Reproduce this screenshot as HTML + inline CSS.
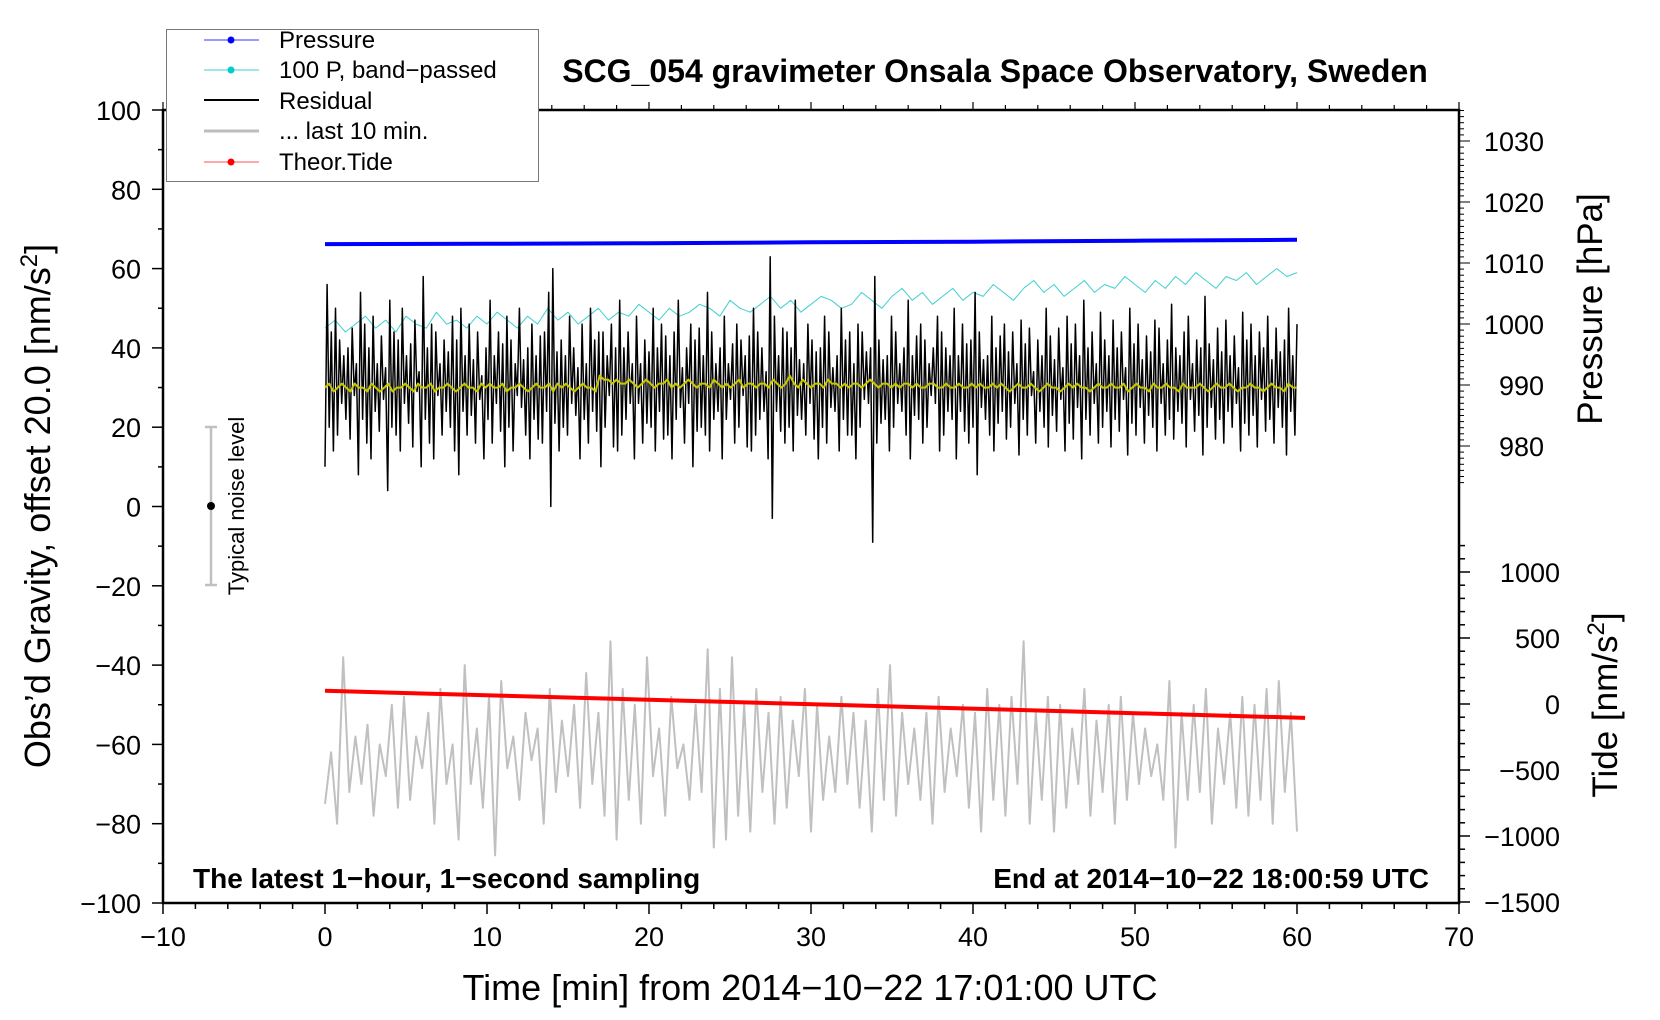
<!DOCTYPE html>
<html><head><meta charset="utf-8"><style>
html,body{margin:0;padding:0;background:#fff;}
svg{display:block;font-family:"Liberation Sans",Arial,sans-serif;}
</style></head><body>
<svg id="chart" width="1660" height="1020" viewBox="0 0 1660 1020">
<g id="grid-layer"></g>
<g id="series-layer"></g>
<g id="text-layer">
  <text x="995" y="82" font-size="32" font-weight="bold" text-anchor="middle">SCG_054 gravimeter Onsala Space Observatory, Sweden</text>
  <text x="193" y="888" font-size="28" font-weight="bold">The latest 1−hour, 1−second sampling</text>
  <text x="1429" y="888" font-size="28" font-weight="bold" text-anchor="end">End at 2014−10−22 18:00:59 UTC</text>
  <text x="810" y="1000" font-size="36" text-anchor="middle">Time [min] from 2014−10−22 17:01:00 UTC</text>
  <text transform="translate(50,506) rotate(-90)" font-size="36" text-anchor="middle">Obs’d Gravity, offset 20.0 [nm/s<tspan dy="-13" font-size="24">2</tspan><tspan dy="13">]</tspan></text>
  <text transform="translate(1602,309) rotate(-90)" font-size="35" text-anchor="middle">Pressure [hPa]</text>
  <text transform="translate(1617,705) rotate(-90)" font-size="35" text-anchor="middle">Tide [nm/s<tspan dy="-13" font-size="24">2</tspan><tspan dy="13">]</tspan></text>
  <g>
    <line x1="211" y1="427" x2="211" y2="585" stroke="#c0c0c0" stroke-width="2.5"/>
    <line x1="205" y1="427" x2="217" y2="427" stroke="#c0c0c0" stroke-width="2.5"/>
    <line x1="205" y1="585" x2="217" y2="585" stroke="#c0c0c0" stroke-width="2.5"/>
    <circle cx="211" cy="506" r="4" fill="#000"/>
    <text transform="translate(244,506) rotate(-90)" font-size="22" text-anchor="middle">Typical noise level</text>
  </g>
</g>
<g id="legend">
  <rect x="166.5" y="29.5" width="372" height="152" fill="#fff" stroke="#777" stroke-width="1"/>
  <g><line x1="204" y1="40" x2="259" y2="40" stroke="#3333ff" stroke-width="1"/><circle cx="231" cy="40" r="3.5" fill="#0000ff"/><text x="279" y="48" font-size="24">Pressure</text></g>
  <g><line x1="204" y1="70" x2="259" y2="70" stroke="#40d0d0" stroke-width="1"/><circle cx="231" cy="70" r="3.5" fill="#00cccc"/><text x="279" y="78" font-size="24">100 P, band−passed</text></g>
  <g><line x1="204" y1="100" x2="259" y2="100" stroke="#000" stroke-width="2"/><text x="279" y="109" font-size="24">Residual</text></g>
  <g><line x1="204" y1="131" x2="259" y2="131" stroke="#bdbdbd" stroke-width="3"/><text x="279" y="139" font-size="24">... last 10 min.</text></g>
  <g><line x1="204" y1="162" x2="259" y2="162" stroke="#ff5050" stroke-width="1"/><circle cx="231" cy="162" r="3.5" fill="#ff0000"/><text x="279" y="170" font-size="24">Theor.Tide</text></g>
</g>
<script>
// ---- data ----
const xTicks = [-10,0,10,20,30,40,50,60,70];
const yTicks = [100,80,60,40,20,0,-20,-40,-60,-80,-100];
const pressureTicks = [1030,1020,1010,1000,990,980];
const tideTicks = [1000,500,0,-500,-1000,-1500];
const pressureTimes = [0,10,20,30,40,50,60];
const pressureValues = [1013.1,1013.15,1013.25,1013.4,1013.5,1013.65,1013.8];
const tideTimes = [0,60.5];
const tideValues = [100,-105];
const cyanValues = [45,47,44,46,48,45,47,44,48,46,45,49,46,47,45,48,46,49,47,45,48,46,50,47,49,46,48,50,47,49,48,51,49,47,50,48,49,51,50,48,52,50,49,51,53,50,52,49,51,53,52,50,51,54,52,50,53,55,52,54,51,53,55,52,54,53,56,54,52,55,57,54,56,53,55,57,54,56,55,58,56,54,57,55,58,56,59,57,55,58,57,59,56,58,60,58,59];
const yellowValues = [30,31,29,30,31,30,29,31,30,30,29,31,30,29,30,31,29,30,30,31,30,29,31,30,30,31,29,30,30,31,30,29,30,31,30,30,29,31,30,31,30,30,31,29,30,30,31,30,29,30,31,30,30,31,29,31,30,31,30,29,30,31,30,30,29,33,32,32,31,32,31,31,32,31,30,31,32,31,30,31,31,32,30,31,30,31,32,31,30,31,31,30,32,31,30,31,30,31,32,30,31,31,30,31,31,30,32,31,30,31,33,31,30,32,31,30,31,31,30,32,31,31,30,31,30,31,31,30,31,32,31,30,31,31,30,31,30,31,31,30,31,30,30,31,31,30,30,31,30,30,31,30,30,31,30,31,30,30,31,30,31,30,29,30,31,30,30,31,30,29,30,31,30,30,29,30,31,30,31,30,30,29,30,31,30,30,31,30,30,31,29,30,31,30,30,29,31,30,30,31,30,30,29,31,30,30,30,31,30,29,30,31,30,30,31,30,29,30,30,31,30,30,29,30,31,30,30,29,31,30,30];
const residualValues = [10,56,20,44,14,50,18,42,26,38,22,40,17,45,28,36,8,54,22,46,16,40,12,48,24,36,19,43,27,35,4,52,20,44,18,42,14,50,26,38,21,41,15,47,29,34,10,58,22,40,16,46,12,44,28,36,18,42,24,39,20,48,14,42,8,50,24,38,18,46,23,37,16,44,27,33,12,40,22,52,16,38,26,44,19,41,10,48,20,42,14,36,28,50,25,37,18,40,12,46,22,38,17,43,16,44,24,54,0,60,21,39,14,42,20,38,18,48,26,40,23,35,12,46,22,36,16,50,24,42,19,44,10,44,20,38,28,46,15,40,14,52,18,40,22,44,26,36,12,48,26,36,16,42,21,39,20,50,14,40,24,46,17,43,18,38,12,44,22,52,25,35,16,40,26,46,10,42,19,45,20,38,18,54,14,44,22,36,24,40,12,48,22,36,27,41,16,46,20,42,28,38,15,43,14,50,18,44,22,40,24,34,12,63,-3,48,24,38,19,45,16,44,20,40,14,52,23,37,22,36,18,46,26,42,17,39,12,40,20,48,16,44,25,35,24,38,14,50,22,42,18,44,18,36,12,46,20,44,27,39,26,40,-9,58,16,42,21,37,22,38,14,48,20,44,26,36,24,40,18,52,12,38,23,43,22,46,16,42,20,36,28,40,26,48,14,44,18,40,24,38,22,50,12,38,24,46,19,41,16,42,20,54,8,44,25,37,22,38,18,48,14,40,21,43,24,46,17,39,20,44,26,36,13,47,22,41,18,45,28,34,16,42,24,38,20,50,15,43,23,37,19,45,27,35,14,48,21,41,17,46,25,38,12,52,22,40,18,44,26,36,16,49,20,42,24,38,15,47,22,40,19,44,27,35,13,50,21,41,18,46,25,37,16,43,23,39,20,47,14,45,26,36,18,42,22,51,17,40,24,38,21,44,15,48,27,36,19,42,23,40,13,53,20,41,25,37,17,45,22,39,16,47,24,38,20,43,26,35,14,49,21,42,18,46,23,38,15,44,27,40,19,48,22,37,16,45,25,39,20,42,13,50,24,38,18,46];
const grayValues = [-75,-62,-80,-38,-72,-58,-70,-55,-78,-60,-68,-50,-76,-48,-74,-58,-66,-52,-80,-46,-70,-60,-84,-40,-70,-56,-76,-48,-88,-44,-66,-58,-74,-52,-64,-56,-80,-46,-72,-54,-68,-50,-76,-42,-70,-52,-78,-34,-84,-46,-74,-50,-80,-38,-68,-56,-78,-48,-66,-60,-74,-50,-72,-36,-86,-46,-84,-38,-78,-50,-82,-46,-72,-52,-80,-48,-76,-54,-68,-46,-82,-50,-74,-58,-72,-48,-70,-52,-76,-54,-82,-46,-74,-40,-78,-52,-70,-56,-74,-52,-80,-48,-72,-56,-68,-50,-76,-52,-82,-46,-74,-50,-78,-48,-70,-34,-80,-52,-74,-48,-82,-50,-76,-56,-70,-46,-78,-54,-72,-50,-80,-48,-74,-52,-70,-56,-68,-60,-74,-44,-86,-52,-74,-50,-72,-46,-80,-56,-70,-52,-76,-48,-78,-50,-74,-46,-80,-44,-72,-52,-82];
// ---- scales ----
const X = t => 325 + t * 16.2;
const G = v => 110 + (100 - v) * 3.965;
const P = p => 324 - (p - 1000) * 6.1;
const T = v => 704 - v * 0.132;
const NS = 'http://www.w3.org/2000/svg';
function mk(tag, attrs, parent) {
  const e = document.createElementNS(NS, tag);
  for (const k in attrs) e.setAttribute(k, attrs[k]);
  parent.appendChild(e); return e;
}
const ax = document.getElementById('grid-layer');
const se = document.getElementById('series-layer');
const frame = mk('rect', {x:163, y:110, width:1296, height:793, fill:'none', stroke:'#000', 'stroke-width':2.5}, ax);


for (let t = -10; t <= 70; t += 2) {
  const major = t % 10 === 0;
  mk('line', {x1:X(t), y1:903, x2:X(t), y2:903 + (major ? 11 : 6), stroke:'#000', 'stroke-width':1.5}, ax);
  mk('line', {x1:X(t), y1:110, x2:X(t), y2:110 - (major ? 8 : 5), stroke:'#000', 'stroke-width':1.2}, ax);
}
xTicks.forEach(t => {
  const tx = mk('text', {x:X(t), y:946, 'font-size':27, 'text-anchor':'middle'}, ax);
  tx.textContent = t < 0 ? '−' + Math.abs(t) : String(t);
  
  
});
for (let v = -100; v <= 100; v += 10) {
  const major = v % 20 === 0;
  mk('line', {x1:163, y1:G(v), x2:163 - (major ? 11 : 5), y2:G(v), stroke:'#000', 'stroke-width':1.5}, ax);
}
yTicks.forEach(v => {
  const tx = mk('text', {x:141, y:G(v) + 10, 'font-size':27, 'text-anchor':'end'}, ax);
  tx.textContent = v < 0 ? '−' + Math.abs(v) : String(v);
  
  
});
for (let p = 974; p <= 1035; p += 1) {
  const major = p % 10 === 0;
  mk('line', {x1:1459, y1:P(p), x2:1459 + (major ? 11 : 5), y2:P(p), stroke:'#000', 'stroke-width':1}, ax);
}
pressureTicks.forEach(p => {
  const tx = mk('text', {x:1544, y:P(p) + 10, 'font-size':27, 'text-anchor':'end'}, ax);
  tx.textContent = String(p);
  
  
});
for (let v = -1500; v <= 1200; v += 100) {
  const major = v % 500 === 0;
  mk('line', {x1:1459, y1:T(v), x2:1459 + (major ? 11 : 6), y2:T(v), stroke:'#000', 'stroke-width':1.5}, ax);
}
tideTicks.forEach(v => {
  const tx = mk('text', {x:1560, y:T(v) + 10, 'font-size':27, 'text-anchor':'end'}, ax);
  tx.textContent = v < 0 ? '−' + Math.abs(v) : String(v);
  
  
});
function line(vals, tFn, yFn, color, w, name) {
  const pts = vals.map((v, i) => X(tFn(i)).toFixed(1) + ',' + yFn(v).toFixed(1)).join(' ');
  const pl = mk('polyline', {points:pts, fill:'none', stroke:color, 'stroke-width':w, 'stroke-linejoin':'round'}, se);
  
  
}
line(grayValues, i => i * 60 / (grayValues.length - 1), G, '#c0c0c0', 2, 'last-10-min-line');
line(tideValues, i => tideTimes[i], T, '#ff0000', 4, 'theor-tide-line');
line(cyanValues, i => i * 60 / (cyanValues.length - 1), G, '#40d0d0', 1, 'bandpassed-pressure-line');
line(residualValues, i => i * 60 / (residualValues.length - 1), G, '#000', 1.5, 'residual-line');
line(yellowValues, i => i * 60 / (yellowValues.length - 1), G, '#c8c800', 2, 'smoothed-residual-line');
line(pressureValues, i => pressureTimes[i], P, '#0000ff', 4, 'pressure-line');
</script>
</svg>
</body></html>
